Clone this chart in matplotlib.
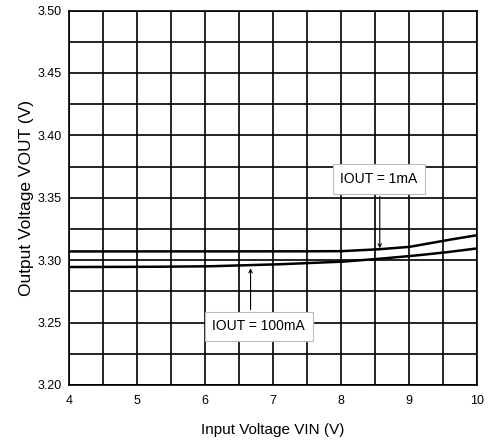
import numpy as np
import matplotlib.pyplot as plt

# data
vin = [4.0, 5.0, 6.0, 7.0, 8.0, 8.5, 9.0, 9.5, 10.0]
vout_1ma = [3.307, 3.307, 3.307, 3.307, 3.3072, 3.3085, 3.3106, 3.3155, 3.320]
vout_100ma = [3.2945, 3.2946, 3.295, 3.2965, 3.2987, 3.3008, 3.3032, 3.306, 3.3094]

x_ticks = [4, 5, 6, 7, 8, 9, 10]
y_ticks = [3.20, 3.25, 3.30, 3.35, 3.40, 3.45, 3.50]
y_labels = ['3.20', '3.25', '3.30', '3.35', '3.40', '3.45', '3.50']

plt.rcParams['font.family'] = ['Liberation Sans', 'DejaVu Sans']

fig = plt.figure(figsize=(4.89, 4.46), dpi=100)
ax = fig.add_axes([69/489, 1-385/446, (477-69)/489, (385-10.5)/446])

# smooth the curves a bit for drawing
xs = np.linspace(4, 10, 200)
ax.plot(xs, np.interp(xs, vin, vout_1ma), color='black', lw=1.8, zorder=3)
ax.plot(xs, np.interp(xs, vin, vout_100ma), color='black', lw=1.8, zorder=3)

ax.set_xlim(4, 10)
ax.set_ylim(3.20, 3.50)
ax.set_xticks(x_ticks)
ax.set_xticks(np.arange(4, 10.01, 0.5), minor=True)
ax.set_yticks(y_ticks)
ax.set_yticklabels(y_labels)
ax.set_yticks(np.arange(3.20, 3.501, 0.025), minor=True)
ax.grid(True, which='both', color='black', lw=1.2)
ax.tick_params(which='both', length=0, labelsize=9, pad=7)
ax.tick_params(axis='y', pad=5)
for s in ax.spines.values():
    s.set_linewidth(1.2)

ax.set_xlabel('Input Voltage VIN (V)', fontsize=11, labelpad=12)
ax.set_ylabel('Output Voltage VOUT (V)', fontsize=12.5, labelpad=3)

box = dict(boxstyle='square,pad=0.55', fc='white', ec='#bbbbbb', lw=0.8)
arr = dict(arrowstyle='->', color='black', lw=0.8, mutation_scale=6, shrinkA=0, shrinkB=0)

ax.text(8.56, 3.365, 'IOUT = 1mA', ha='center', va='center', fontsize=10, bbox=box, zorder=5)
ax.annotate('', xy=(8.57, 3.3095), xytext=(8.57, 3.351), arrowprops=arr, zorder=5)

ax.text(6.79, 3.247, 'IOUT = 100mA', ha='center', va='center', fontsize=10, bbox=box, zorder=5)
ax.annotate('', xy=(6.67, 3.2935), xytext=(6.67, 3.2605), arrowprops=arr, zorder=5)

fig.savefig('out.png', dpi=100)
